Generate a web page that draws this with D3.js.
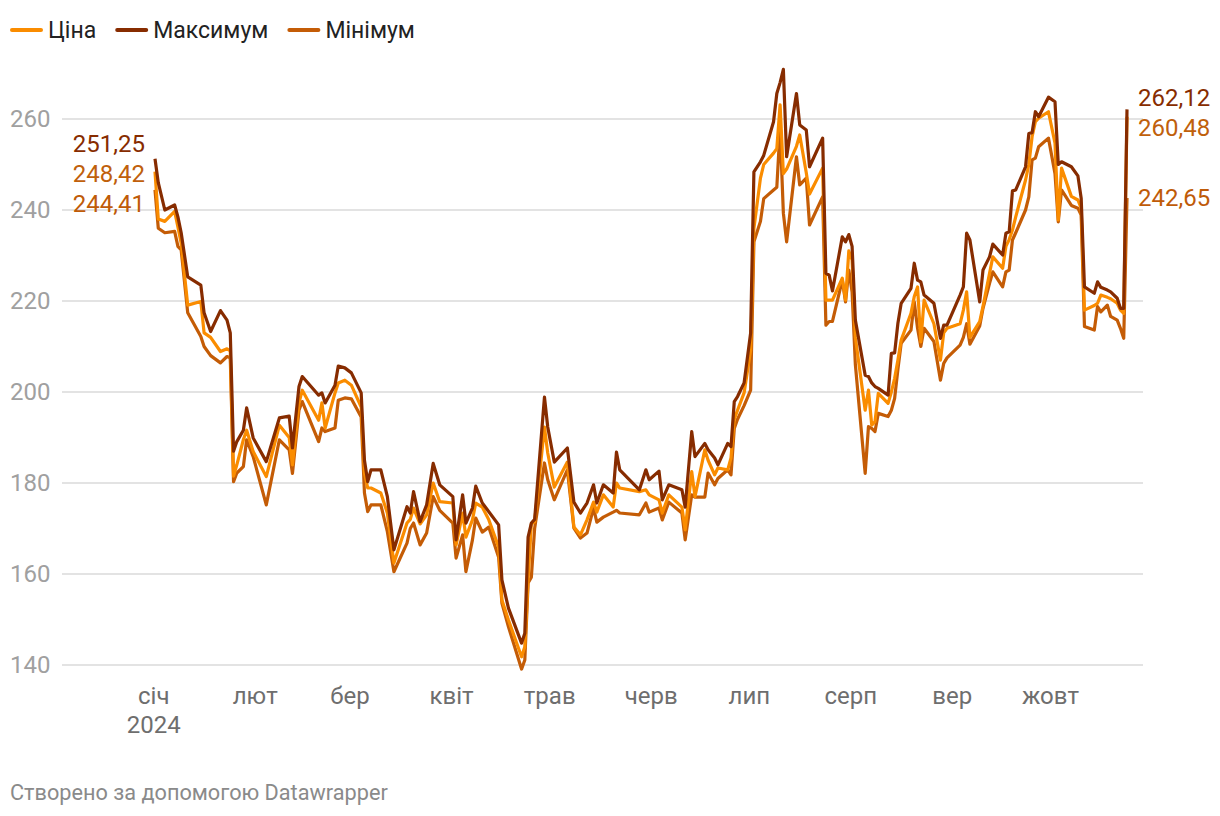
<!DOCTYPE html>
<html><head><meta charset="utf-8">
<script src="https://cdn.jsdelivr.net/npm/d3@7"></script>
<style>
body{margin:0;background:#fff;}
svg{display:block;font-family:Roboto,"Noto Sans",sans-serif;}
</style></head><body>
<svg id="chart" width="1220" height="816"></svg>
<script>
const dates = [
"2024-01-02","2024-01-03","2024-01-05","2024-01-08","2024-01-09","2024-01-10","2024-01-12","2024-01-16","2024-01-17","2024-01-19",
"2024-01-22","2024-01-24","2024-01-25","2024-01-26","2024-01-27","2024-01-29","2024-01-30","2024-02-01","2024-02-05","2024-02-09",
"2024-02-12","2024-02-13","2024-02-15","2024-02-16","2024-02-21","2024-02-22","2024-02-23","2024-02-26","2024-02-27","2024-02-29",
"2024-03-02","2024-03-05","2024-03-06","2024-03-07","2024-03-08","2024-03-11","2024-03-13","2024-03-15","2024-03-19","2024-03-20",
"2024-03-21","2024-03-23","2024-03-25","2024-03-27","2024-03-29","2024-04-02","2024-04-03","2024-04-05","2024-04-06","2024-04-08",
"2024-04-09","2024-04-11","2024-04-13","2024-04-16","2024-04-17","2024-04-19","2024-04-23","2024-04-24","2024-04-25","2024-04-26",
"2024-04-27","2024-04-30","2024-05-01","2024-05-03","2024-05-07","2024-05-09","2024-05-11","2024-05-13","2024-05-15","2024-05-16",
"2024-05-18","2024-05-21","2024-05-22","2024-05-23","2024-05-29","2024-05-31","2024-06-01","2024-06-04","2024-06-05","2024-06-07",
"2024-06-11","2024-06-12","2024-06-14","2024-06-15","2024-06-18","2024-06-19","2024-06-21","2024-06-22","2024-06-25","2024-06-26",
"2024-06-27","2024-06-28","2024-06-30","2024-07-02","2024-07-03","2024-07-05","2024-07-06","2024-07-09","2024-07-10","2024-07-11",
"2024-07-12","2024-07-13","2024-07-16","2024-07-17","2024-07-19","2024-07-20","2024-07-24","2024-07-25","2024-07-26","2024-07-27",
"2024-07-30","2024-07-31","2024-08-01","2024-08-02","2024-08-03","2024-08-06","2024-08-07","2024-08-08","2024-08-09","2024-08-10",
"2024-08-13","2024-08-14","2024-08-15","2024-08-16","2024-08-17","2024-08-20","2024-08-21","2024-08-22","2024-08-23","2024-08-24",
"2024-08-27","2024-08-29","2024-08-30","2024-08-31","2024-09-04","2024-09-05","2024-09-06","2024-09-07","2024-09-10","2024-09-11",
"2024-09-13","2024-09-14","2024-09-17","2024-09-18","2024-09-19","2024-09-20","2024-09-21","2024-09-24","2024-09-25","2024-09-26",
"2024-09-27","2024-09-28","2024-10-01","2024-10-03","2024-10-04","2024-10-05","2024-10-08","2024-10-10","2024-10-11","2024-10-12",
"2024-10-15","2024-10-16","2024-10-17","2024-10-19","2024-10-20","2024-10-22","2024-10-23","2024-10-24","2024-10-25"
];

const maxValues = [
251.25,246,240,241.1,238.5,235,225.3,223.5,217.4,213.3,
217.9,215.8,213,187,189.1,191.6,196.5,189.9,184.7,194.3,
194.7,187.7,201.2,203.4,199.3,199.8,197.6,201.5,205.7,205.3,
204.2,199.8,185,180.3,182.9,182.9,177,165.3,174.8,173.4,
178.1,171.5,175.2,184.3,179.6,177,167.5,177.4,171.2,174.5,
179.3,175.6,173.7,170.8,158.7,152.5,144.8,147,168.1,171.2,
172,198.9,192.3,184.6,187.7,175.8,173.4,175.6,179.6,175.6,
179.6,177.8,186.8,182.9,178.5,182.9,180.7,182.6,176.3,179.6,
178.5,174.7,191.3,185.8,188.7,187.3,185.5,184,188.7,188,
197.9,199,202,213,248.4,250.6,252,259.4,265.6,268,
270.9,251.7,265.6,258.7,257.6,249.5,255.8,226.1,225.7,222.2,
234.1,233,234.6,232,215.8,203.7,203.4,202,201.2,200.8,
199.3,208.5,208.6,215.1,219.5,222.8,228.3,224.6,224.2,221.3,
219.5,211.8,214.7,214.7,221.3,223.1,234.9,233.4,219.8,226.8,
229.7,232.5,230.1,234.9,235.2,244.2,244.4,249.5,256.8,257,
261.6,260.5,264.8,263.8,250,250.6,249.5,247.5,242.6,223.1,
221.7,224.2,223,222.4,222,220.6,218.4,218.4,262.12
];

const priceValues = [
248.42,238,237.5,239.7,236.3,232.7,219.1,219.9,213,212,
208.9,209.5,209,181.5,184,189.5,191.6,186.9,181.4,192.7,
190,184,197.6,200.4,193.8,197.6,192.1,199.8,202,202.6,
201.5,196.7,182.2,178.9,178.9,177.8,173.4,162.4,171.2,172,
174.5,171,173,180,175.9,175.6,166.4,173.4,168.1,171.9,
175.6,174.7,171.9,165.9,154.3,149.9,141.8,144,158.7,171,
171.5,192.3,186.6,179.1,184.6,170.3,168.6,171.9,175.8,173.6,
177.4,174.7,180,178.9,178.1,178.5,177.4,176.3,173.4,177.4,
174.7,169.7,182.5,177,187.3,185,181.8,183.3,182.9,185.5,
194,196,199.8,209.2,236,247,250,252.5,253.5,263.1,
248,249,254,256.5,248.2,243.5,249.2,220.2,220.2,220.2,
225,220.2,231,229,212,196,200.4,192.7,193.5,199.7,
197.5,200,203,207,211.4,217.3,221,223.1,211,220.2,
215,207,213,214,215,218,222,212,215.5,218.8,
226.1,229.7,227.2,232,233.5,235.6,238.5,246.6,250,256.1,
259.4,260.2,261.6,254.7,237.8,249.2,243,242.2,240.4,218,
219,219.5,221.3,220.8,220.5,219.5,218,217.3,260.48
];

const minValues = [
244.41,236,235,235.3,232,231.2,217.4,212.2,210,208,
206.4,207.8,207.5,180.3,182.2,183.6,189.5,185.8,175.2,189.5,
187.3,182.1,196,197.9,189.1,192.1,191.3,192.1,198.2,198.7,
198.5,194.5,177.8,173.7,175.2,175.2,169.3,160.5,166.8,170,
171.2,166.4,169,177,174,171.2,163.5,168.6,160.5,167.5,
172.3,169.2,170.3,163.7,153.6,148.4,139.1,141.1,158,159.3,
170,184.4,180.7,176.3,182.9,170.1,167.9,169,174.5,171.4,
172.5,173.6,174,173.4,173,175.6,173.6,174.5,171.9,175.8,
173.4,167.5,177.4,176.9,176.9,182.2,179.6,181,182.9,181.8,
192,194,197,200.4,233,237.5,242.5,244.4,245,258,
239.3,233,251.7,245.5,247,236.7,242.9,214.7,215.5,215.5,
224.6,219.8,226.8,222,206,182.1,192.4,192,191.3,195.3,
194.6,196,198.6,205,210.7,213.6,219.8,214,210,214,
211.1,202.6,206.3,207.5,210.3,212,215,210.5,214.5,218.4,
223.9,226.4,223.1,226.4,226.8,233.4,235,240,242.9,251,
251.4,253.9,255.8,248,237.4,244.4,241,240.4,238.9,214.4,
213.6,218.8,217.6,219.1,216.6,215.8,214,211.8,242.65
];

const seriesNames = ["Ціна", "Максимум", "Мінімум"];
const yTicks = [140, 160, 180, 200, 220, 240, 260];
const monthLabels = ["січ", "лют", "бер", "квіт", "трав", "черв", "лип", "серп", "вер", "жовт"];
const yearLabel = "2024";
const footerText = "Створено за допомогою Datawrapper";

const colors = {price: "#fa8c00", max: "#872c00", min: "#c45c06"};
const labelColors = {price: "#c0600b", max: "#872c00", min: "#bf5b08"};

const parse = d3.timeParse("%Y-%m-%d");
const parsedDates = dates.map(parse);

const series = [
  {key: "min", name: seriesNames[2], values: minValues},
  {key: "price", name: seriesNames[0], values: priceValues},
  {key: "max", name: seriesNames[1], values: maxValues}
];

const svg = d3.select("#chart");
const x = d3.scaleTime().domain(d3.extent(parsedDates)).range([155, 1127]);
const y = d3.scaleLinear().domain([140, 260]).range([665, 119]);
const FS = 24;

// gridlines + y labels
const gridG = svg.append("g");
gridG.selectAll("line").data(yTicks).join("line")
  .attr("x1", 62).attr("x2", 1143)
  .attr("y1", d => y(d)).attr("y2", d => y(d))
  .attr("stroke", "#e3e3e3").attr("stroke-width", 2);
gridG.selectAll("text").data(yTicks).join("text")
  .attr("x", 10).attr("y", d => y(d)).attr("dy", "0.35em")
  .attr("fill", "#a0a0a0").attr("font-size", FS)
  .text(d => d);

// x axis labels
const months = monthLabels.map((m, i) => ({label: m, date: new Date(2024, i, 1)}));
const xG = svg.append("g");
xG.selectAll("text").data(months).join("text")
  .attr("x", d => x(d.date) + 2).attr("y", 704)
  .attr("text-anchor", "middle").attr("fill", "#6e6e6e").attr("font-size", FS)
  .text(d => d.label);
xG.append("text").attr("x", x(months[0].date) + 2).attr("y", 733)
  .attr("text-anchor", "middle").attr("fill", "#6e6e6e").attr("font-size", FS)
  .text(yearLabel);

// lines
const line = d3.line().x((d, i) => x(parsedDates[i])).y(d => y(d)).curve(d3.curveLinear);
svg.append("g").selectAll("path").data(series).join("path")
  .attr("d", d => line(d.values))
  .attr("fill", "none")
  .attr("stroke", d => colors[d.key])
  .attr("stroke-width", 3.2)
  .attr("stroke-linejoin", "round")
  .attr("stroke-linecap", "butt");

// end labels with de-overlap
const fmt = v => d3.format(".2f")(v).replace(".", ",");
function spread(items, gap) {
  items.sort((a, b) => a.y - b.y);
  for (let iter = 0; iter < 50; iter++) {
    let moved = false;
    for (let i = 1; i < items.length; i++) {
      const diff = items[i].ly - items[i - 1].ly;
      if (diff < gap) {
        const push = (gap - diff) / 2;
        items[i].ly += push; items[i - 1].ly -= push; moved = true;
      }
    }
    if (!moved) break;
  }
  return items;
}
const n = dates.length;
const startItems = spread(series.map(s => ({s, v: s.values[0], y: y(s.values[0]), ly: y(s.values[0])})), 30);
const endItems = spread(series.map(s => ({s, v: s.values[n - 1], y: y(s.values[n - 1]), ly: y(s.values[n - 1])})), 30);
const labG = svg.append("g").attr("font-size", FS);
labG.selectAll("text.start").data(startItems).join("text").attr("class", "start")
  .attr("x", 145).attr("y", d => d.ly).attr("dy", "0.35em").attr("text-anchor", "end")
  .attr("fill", d => labelColors[d.s.key]).text(d => fmt(d.v));
labG.selectAll("text.end").data(endItems).join("text").attr("class", "end")
  .attr("x", 1138).attr("y", d => d.ly).attr("dy", "0.35em").attr("text-anchor", "start")
  .attr("fill", d => labelColors[d.s.key]).text(d => fmt(d.v));

// legend
const legendOrder = [
  {name: seriesNames[0], key: "price"},
  {name: seriesNames[1], key: "max"},
  {name: seriesNames[2], key: "min"}
];
const legG = svg.append("g");
let lx = 12;
legendOrder.forEach(item => {
  legG.append("line").attr("x1", lx).attr("x2", lx + 29).attr("y1", 30).attr("y2", 30)
    .attr("stroke", colors[item.key]).attr("stroke-width", 4).attr("stroke-linecap", "round");
  const t = legG.append("text").attr("x", lx + 36).attr("y", 30).attr("dy", "0.35em")
    .attr("fill", "#222").attr("font-size", 23).text(item.name);
  lx = lx + 36 + t.node().getComputedTextLength() + 21;
});

// footer
svg.append("text").attr("x", 10).attr("y", 800).attr("fill", "#8a8a8a").attr("font-size", 21.7).text(footerText);
</script>
</body></html>
